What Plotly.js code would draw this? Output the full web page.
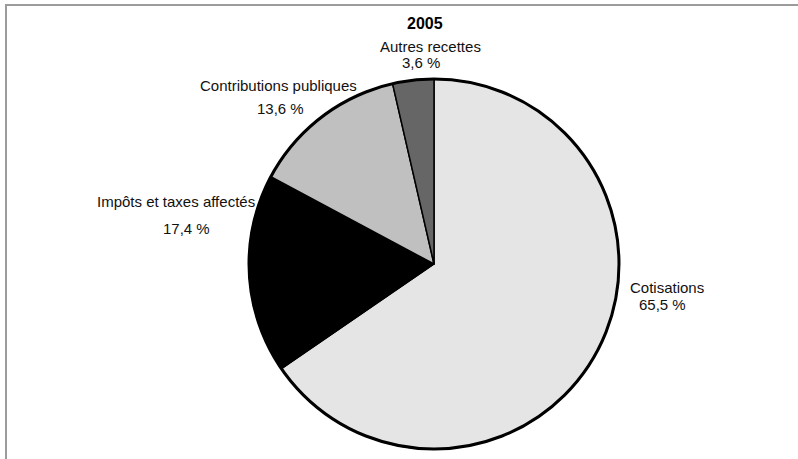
<!DOCTYPE html>
<html>
<head>
<meta charset="utf-8">
<script src="https://cdn.plot.ly/plotly-3.0.1.min.js"></script>
<style>
  html, body { margin: 0; padding: 0; background: #fff; }
  #wrap { position: relative; width: 798px; height: 459px; overflow: hidden; }
  #chart { position: absolute; left: 0; top: 0; width: 798px; height: 459px; }
  #frame {
    position: absolute; left: 5px; top: 4px; right: -10px; bottom: -10px;
    border-left: 2px solid #9c9c9c; border-top: 2px solid #9c9c9c;
    pointer-events: none;
  }
</style>
</head>
<body>
<div id="wrap">
  <div id="chart"></div>
  <div id="frame"></div>
</div>
<script>
// Ressources 2005, en % du total
const year = '2005';
const categories = ['Cotisations', 'Impôts et taxes affectés', 'Contributions publiques', 'Autres recettes'];
const shares = [65.5, 17.4, 13.6, 3.6];
const sliceColors = ['#e5e5e5', '#000000', '#c0c0c0', '#666666'];

const W = 798, H = 459;
const px = x => x / W;
const py = y => 1 - y / H;

// disc: centre (434, 264), rayon 185 px
const pieDomain = { x: [px(249), px(619)], y: [py(449), py(79)] };

const pie = {
  type: 'pie',
  values: shares,
  labels: categories,
  sort: false,
  direction: 'clockwise',
  rotation: 0,
  textinfo: 'none',
  hoverinfo: 'label+percent',
  marker: { colors: sliceColors, line: { color: '#000', width: 1.5 } },
  domain: pieDomain,
  showlegend: false
};

// contour extérieur plus épais
const rim = {
  type: 'pie',
  values: [1],
  labels: [''],
  sort: false,
  textinfo: 'none',
  hoverinfo: 'skip',
  marker: { colors: ['rgba(0,0,0,0)'], line: { color: '#000', width: 3 } },
  domain: pieDomain,
  showlegend: false
};

const fmt = v => v.toFixed(1).replace('.', ',') + ' %';
const font = { family: 'Liberation Sans, Arial, sans-serif', size: 15, color: '#111' };

// position des étiquettes (nom, valeur) en pixels
const labelPos = [
  { name: [667, 287], value: [662, 304] },
  { name: [176, 201], value: [186, 229] },
  { name: [278, 86], value: [280, 109] },
  { name: [430, 46], value: [421, 63] }
];

const annotations = [{
  text: '<b>' + year + '</b>', x: px(425), y: py(23), xref: 'paper', yref: 'paper',
  showarrow: false, xanchor: 'center', yanchor: 'middle',
  font: { family: 'Liberation Sans, Arial, sans-serif', size: 16, color: '#000' }
}];
categories.forEach((c, i) => {
  annotations.push({
    text: c, x: px(labelPos[i].name[0]), y: py(labelPos[i].name[1]),
    xref: 'paper', yref: 'paper', showarrow: false, xanchor: 'center', yanchor: 'middle', font
  });
  annotations.push({
    text: fmt(shares[i]), x: px(labelPos[i].value[0]), y: py(labelPos[i].value[1]),
    xref: 'paper', yref: 'paper', showarrow: false, xanchor: 'center', yanchor: 'middle', font
  });
});

const layout = {
  width: W, height: H,
  margin: { l: 0, r: 0, t: 0, b: 0 },
  paper_bgcolor: '#fff',
  showlegend: false,
  annotations
};

Plotly.newPlot('chart', [pie, rim], layout, { displayModeBar: false, staticPlot: true });
</script>
</body>
</html>
